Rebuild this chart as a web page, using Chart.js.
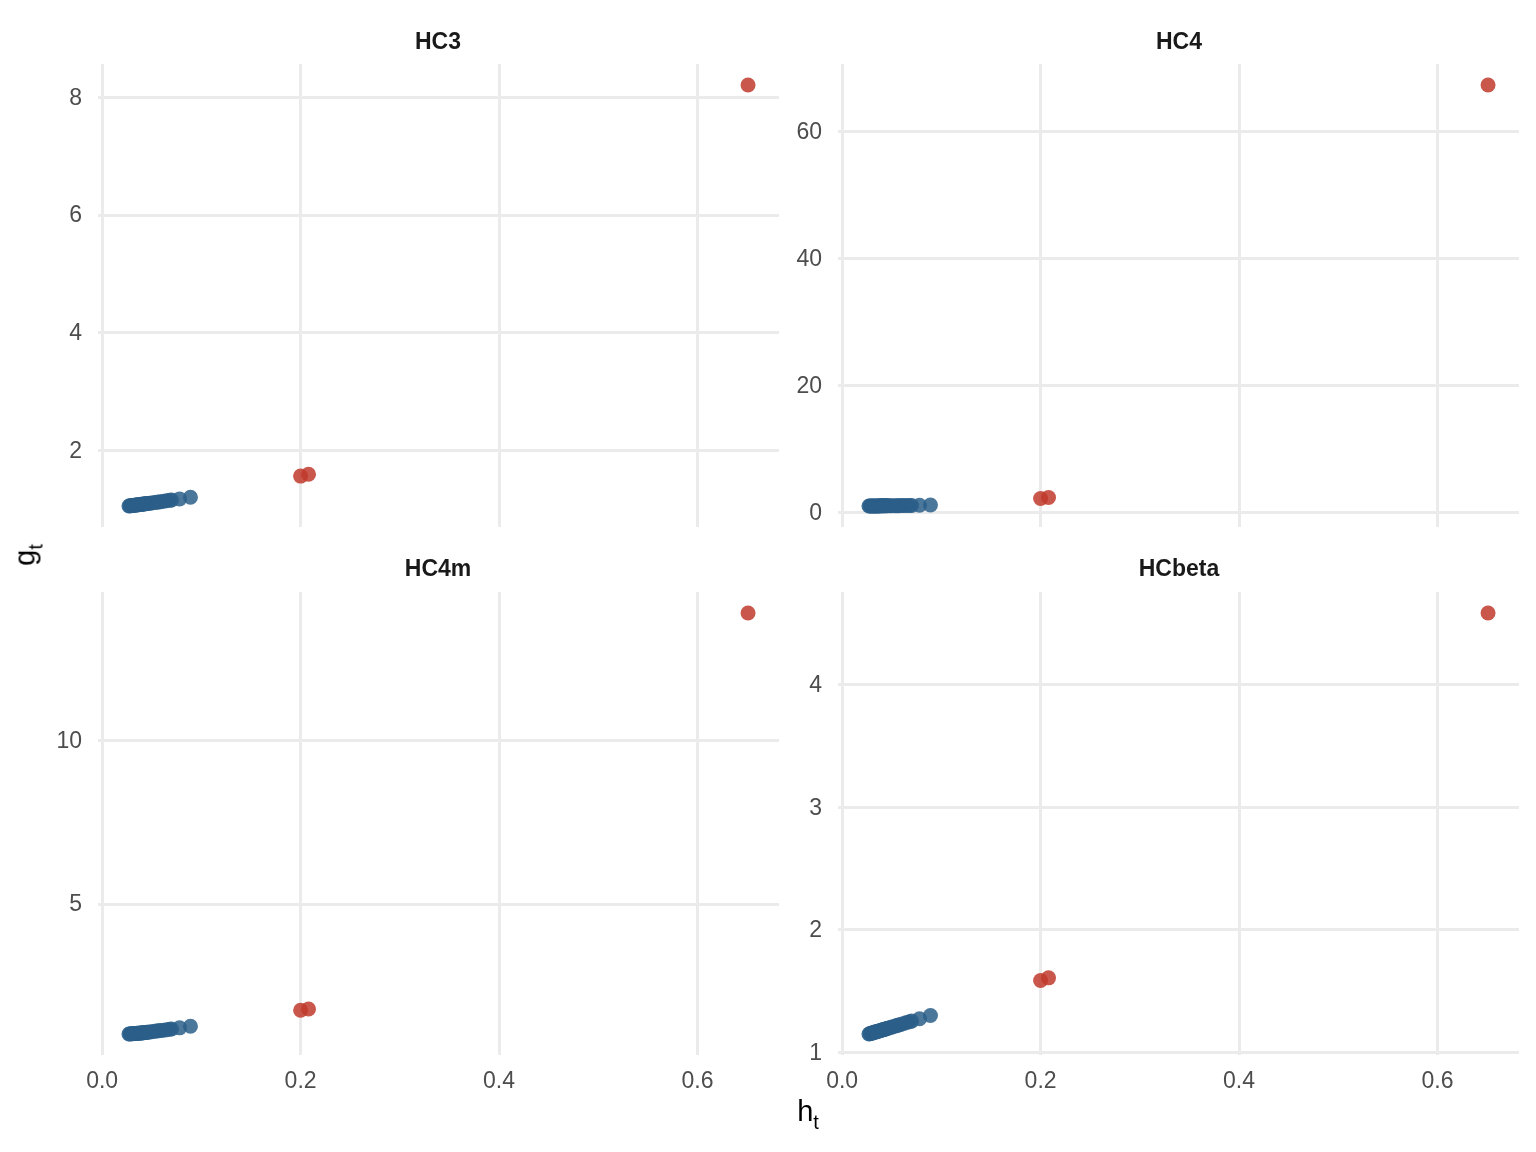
<!DOCTYPE html>
<html>
<head>
<meta charset="utf-8">
<script src="https://cdn.jsdelivr.net/npm/chart.js@4.4.0/dist/chart.umd.min.js"></script>
<style>
  body { margin: 0; background: #fff; width: 1536px; height: 1152px; position: relative; overflow: hidden; font-family: "Liberation Sans", Arial, sans-serif; }
  canvas { position: absolute; left: 0; top: 0; }
  .strip { position: absolute; font-weight: bold; font-size: 23px; color: #1a1a1a; transform: translate(-50%, -50%); white-space: nowrap; }
  .axtitle { position: absolute; font-size: 29px; color: #000; white-space: nowrap; }
  .axtitle sub { font-size: 20px; vertical-align: -8px; }
</style>
</head>
<body>
<canvas id="c-hc3" width="1536" height="1152"></canvas>
<canvas id="c-hc4" width="1536" height="1152"></canvas>
<canvas id="c-hc4m" width="1536" height="1152"></canvas>
<canvas id="c-hcbeta" width="1536" height="1152"></canvas>

<div class="strip" style="left:438px;top:41px">HC3</div>
<div class="strip" style="left:1179px;top:41px">HC4</div>
<div class="strip" style="left:438px;top:568px">HC4m</div>
<div class="strip" style="left:1179px;top:568px">HCbeta</div>

<div class="axtitle" style="left:28px;top:555px;transform:translate(-50%,-50%) rotate(-90deg)">g<sub>t</sub></div>
<div class="axtitle" style="left:808px;top:1114px;transform:translate(-50%,-50%)">h<sub>t</sub></div>

<script>
// leverage values (x), shared by all panels
const hBlue = [0.027, 0.028, 0.029, 0.030, 0.031, 0.032, 0.033, 0.034, 0.035, 0.036,
               0.037, 0.038, 0.039, 0.040, 0.041, 0.042, 0.043, 0.044, 0.045, 0.046,
               0.048, 0.050, 0.053, 0.055, 0.057, 0.059, 0.062, 0.065, 0.068, 0.070,
               0.078, 0.089];
const hRed = [0.200, 0.208, 0.651];
const xTicks = [0, 0.2, 0.4, 0.6];

// g_t per estimator
const hc3Blue = [1.056, 1.058, 1.061, 1.063, 1.065, 1.067, 1.069, 1.072, 1.074, 1.076,
                 1.078, 1.081, 1.083, 1.085, 1.087, 1.090, 1.092, 1.094, 1.097, 1.099,
                 1.103, 1.108, 1.115, 1.120, 1.125, 1.129, 1.137, 1.144, 1.151, 1.156,
                 1.176, 1.205];
const hc3Red = [1.563, 1.594, 8.21];
const hc3Ticks = [2, 4, 6, 8];

const hc4Blue = [1.013, 1.014, 1.015, 1.016, 1.017, 1.019, 1.020, 1.021, 1.022, 1.024,
                 1.025, 1.026, 1.028, 1.029, 1.031, 1.032, 1.034, 1.036, 1.037, 1.039,
                 1.043, 1.046, 1.052, 1.056, 1.061, 1.065, 1.073, 1.080, 1.088, 1.094,
                 1.118, 1.158];
const hc4Red = [2.20, 2.35, 67.4];
const hc4Ticks = [0, 20, 40, 60];

const hc4mBlue = [1.026, 1.028, 1.031, 1.033, 1.035, 1.037, 1.040, 1.042, 1.045, 1.048,
                  1.050, 1.053, 1.056, 1.059, 1.062, 1.066, 1.069, 1.072, 1.076, 1.079,
                  1.087, 1.095, 1.107, 1.116, 1.125, 1.132, 1.143, 1.155, 1.168, 1.176,
                  1.213, 1.262];
const hc4mRed = [1.75, 1.79, 13.90];
const hc4mTicks = [5, 10];

const hcbetaBlue = [1.151, 1.153, 1.156, 1.158, 1.161, 1.163, 1.166, 1.168, 1.170, 1.173,
                    1.175, 1.178, 1.180, 1.183, 1.185, 1.187, 1.190, 1.192, 1.195, 1.197,
                    1.202, 1.207, 1.214, 1.219, 1.224, 1.229, 1.236, 1.244, 1.251, 1.256,
                    1.275, 1.302];
const hcbetaRed = [1.587, 1.609, 4.586];
const hcbetaTicks = [1, 2, 3, 4];

const BLUE = 'rgba(44, 95, 138, 0.85)';
const RED = 'rgba(192, 57, 43, 0.85)';
const GRID = '#ebebeb';
const FONT = '"Liberation Sans", Arial, sans-serif';
const Y_W = 80;   // y axis width
const X_H = 45;   // x axis height (bottom row only)

const panels = [
    { id: 'c-hc3',    blue: hc3Blue,    red: hc3Red,    yTicks: hc3Ticks,    area: { left: 98,  right: 779,  top: 64,  bottom: 527 },  showX: false },
    { id: 'c-hc4',    blue: hc4Blue,    red: hc4Red,    yTicks: hc4Ticks,    area: { left: 838, right: 1519, top: 64,  bottom: 527 },  showX: false },
    { id: 'c-hc4m',   blue: hc4mBlue,   red: hc4mRed,   yTicks: hc4mTicks,   area: { left: 98,  right: 779,  top: 592, bottom: 1055 }, showX: true },
    { id: 'c-hcbeta', blue: hcbetaBlue, red: hcbetaRed, yTicks: hcbetaTicks, area: { left: 838, right: 1519, top: 592, bottom: 1055 }, showX: true }
];

// ggplot-style 5% expansion
function expand(vals) {
    const lo = Math.min(...vals), hi = Math.max(...vals);
    const d = (hi - lo) * 0.05;
    return [lo - d, hi + d];
}

const xRange = expand(hBlue.concat(hRed));

panels.forEach(p => {
    const yRange = expand(p.blue.concat(p.red));
    const a = p.area;
    const ctx = document.getElementById(p.id).getContext('2d');

    new Chart(ctx, {
        type: 'scatter',
        data: {
            datasets: [
                {
                    data: hBlue.map((h, i) => ({ x: h, y: p.blue[i] })),
                    backgroundColor: BLUE,
                    borderWidth: 0,
                    pointRadius: 7.5,
                    pointHoverRadius: 7.5
                },
                {
                    data: hRed.map((h, i) => ({ x: h, y: p.red[i] })),
                    backgroundColor: RED,
                    borderWidth: 0,
                    pointRadius: 7.5,
                    pointHoverRadius: 7.5
                }
            ]
        },
        options: {
            responsive: false,
            animation: false,
            events: [],
            layout: {
                padding: {
                    left: a.left - Y_W,
                    top: a.top,
                    right: 1536 - a.right,
                    bottom: 1152 - a.bottom - (p.showX ? X_H : 0)
                }
            },
            plugins: {
                legend: { display: false },
                tooltip: { enabled: false }
            },
            scales: {
                x: {
                    type: 'linear',
                    min: xRange[0],
                    max: xRange[1],
                    grid: { color: GRID, lineWidth: 3, drawTicks: false },
                    border: { display: false },
                    ticks: {
                        display: p.showX,
                        padding: 13,
                        color: '#4d4d4d',
                        font: { family: FONT, size: 23 },
                        callback: v => v.toFixed(1)
                    },
                    afterBuildTicks: s => { s.ticks = xTicks.map(v => ({ value: v })); },
                    afterFit: s => {
                        s.height = p.showX ? X_H : 0;
                        s.paddingLeft = 0;
                        s.paddingRight = 0;
                    }
                },
                y: {
                    type: 'linear',
                    min: yRange[0],
                    max: yRange[1],
                    grid: { color: GRID, lineWidth: 3, drawTicks: false },
                    border: { display: false },
                    ticks: {
                        padding: 16,
                        labelOffset: 1,
                        color: '#4d4d4d',
                        font: { family: FONT, size: 23 },
                        callback: v => String(v)
                    },
                    afterBuildTicks: s => { s.ticks = p.yTicks.map(v => ({ value: v })); },
                    afterFit: s => {
                        s.width = Y_W;
                        s.paddingTop = 0;
                        s.paddingBottom = 0;
                    }
                }
            }
        }
    });
});
</script>
</body>
</html>
